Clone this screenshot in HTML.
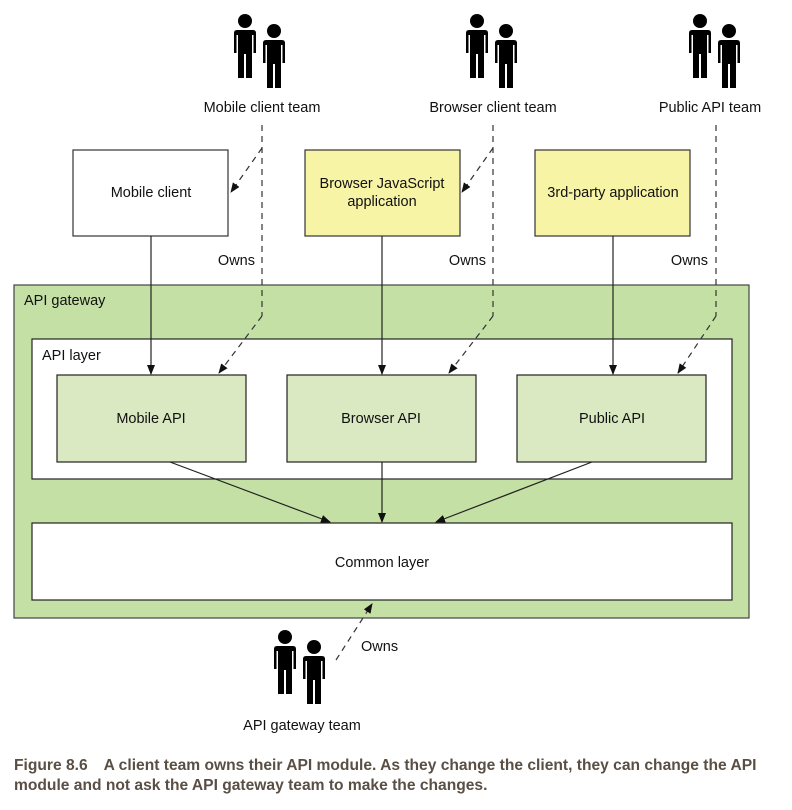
<!DOCTYPE html>
<html><head><style>
body{margin:0;background:#fff;}
svg text{font-family:"Liberation Sans",sans-serif;font-size:14.5px;fill:#111;}
</style></head><body>
<svg width="792" height="805" viewBox="0 0 792 805" xmlns="http://www.w3.org/2000/svg">
<defs>
<marker id="a" markerWidth="10" markerHeight="8" refX="9" refY="4" orient="auto" markerUnits="userSpaceOnUse"><path d="M0,0 L10,4 L0,8 Z" fill="#111"/></marker>
<g id="p">
<circle cx="0" cy="0" r="7" fill="#000"/>
<path d="M-11,12 Q-11,9 -8,9 L8,9 Q11,9 11,12 L11,32 L8.5,32 L8.5,14 L7,14 L7,57 L1,57 L1,33 L-1,33 L-1,57 L-7,57 L-7,14 L-8.5,14 L-8.5,32 L-11,32 Z" fill="#000"/>
</g>
<g id="team"><use href="#p" x="0" y="0"/><use href="#p" x="29" y="10"/></g>
</defs>

<use href="#team" x="245" y="21"/>
<use href="#team" x="477" y="21"/>
<use href="#team" x="700" y="21"/>
<use href="#team" x="285" y="637"/>
<text x="262" y="112" text-anchor="middle">Mobile client team</text>
<text x="493" y="112" text-anchor="middle">Browser client team</text>
<text x="710" y="112" text-anchor="middle">Public API team</text>
<text x="302" y="730" text-anchor="middle">API gateway team</text>

<rect x="73" y="150" width="155" height="86" fill="#fff" stroke="#333" stroke-width="1.2"/>
<text x="151" y="197" text-anchor="middle">Mobile client</text>
<rect x="305" y="150" width="155" height="86" fill="#f8f4a6" stroke="#333" stroke-width="1.2"/>
<text x="382" y="188" text-anchor="middle">Browser JavaScript</text>
<text x="382" y="206" text-anchor="middle">application</text>
<rect x="535" y="150" width="155" height="86" fill="#f8f4a6" stroke="#333" stroke-width="1.2"/>
<text x="613" y="197" text-anchor="middle">3rd-party application</text>

<rect x="14" y="285" width="735" height="333" fill="#c5e0a5" stroke="#444" stroke-width="1.2"/>
<text x="24" y="305">API gateway</text>
<rect x="32" y="339" width="700" height="140" fill="#fff" stroke="#222" stroke-width="1.2"/>
<text x="42" y="360">API layer</text>
<rect x="57" y="375" width="189" height="87" fill="#dae9c2" stroke="#222" stroke-width="1.2"/>
<text x="151" y="423" text-anchor="middle">Mobile API</text>
<rect x="287" y="375" width="189" height="87" fill="#dae9c2" stroke="#222" stroke-width="1.2"/>
<text x="381" y="423" text-anchor="middle">Browser API</text>
<rect x="517" y="375" width="189" height="87" fill="#dae9c2" stroke="#222" stroke-width="1.2"/>
<text x="612" y="423" text-anchor="middle">Public API</text>
<rect x="32" y="523" width="700" height="77" fill="#fff" stroke="#222" stroke-width="1.2"/>
<text x="382" y="567" text-anchor="middle">Common layer</text>

<g stroke="#222" stroke-width="1.2" fill="none">
<line x1="151" y1="236" x2="151" y2="374" marker-end="url(#a)"/>
<line x1="382" y1="236" x2="382" y2="374" marker-end="url(#a)"/>
<line x1="613" y1="236" x2="613" y2="374" marker-end="url(#a)"/>
<line x1="170" y1="462" x2="330" y2="522" marker-end="url(#a)"/>
<line x1="382" y1="462" x2="382" y2="522" marker-end="url(#a)"/>
<line x1="592" y1="462" x2="436" y2="522" marker-end="url(#a)"/>
</g>
<g stroke="#333" stroke-width="1.2" fill="none" stroke-dasharray="6,5">
<line x1="262" y1="125" x2="262" y2="316"/>
<line x1="262" y1="148" x2="231" y2="192" marker-end="url(#a)"/>
<line x1="262" y1="316" x2="219" y2="373" marker-end="url(#a)"/>
<line x1="493" y1="125" x2="493" y2="316"/>
<line x1="493" y1="148" x2="462" y2="192" marker-end="url(#a)"/>
<line x1="493" y1="316" x2="449" y2="373" marker-end="url(#a)"/>
<line x1="716" y1="125" x2="716" y2="316"/>
<line x1="716" y1="316" x2="678" y2="373" marker-end="url(#a)"/>
<line x1="336" y1="660" x2="372" y2="604" marker-end="url(#a)"/>
</g>
<text x="255" y="265" text-anchor="end">Owns</text>
<text x="486" y="265" text-anchor="end">Owns</text>
<text x="708" y="265" text-anchor="end">Owns</text>
<text x="361" y="651">Owns</text>

<text x="14" y="770" style="font-weight:bold;font-size:15.6px;fill:#5a4f45">Figure 8.6<tspan dx="16">A client team owns their API module. As they change the client, they can change the API</tspan></text>
<text x="14" y="790" style="font-weight:bold;font-size:15.6px;fill:#5a4f45">module and not ask the API gateway team to make the changes.</text>
</svg>
</body></html>
